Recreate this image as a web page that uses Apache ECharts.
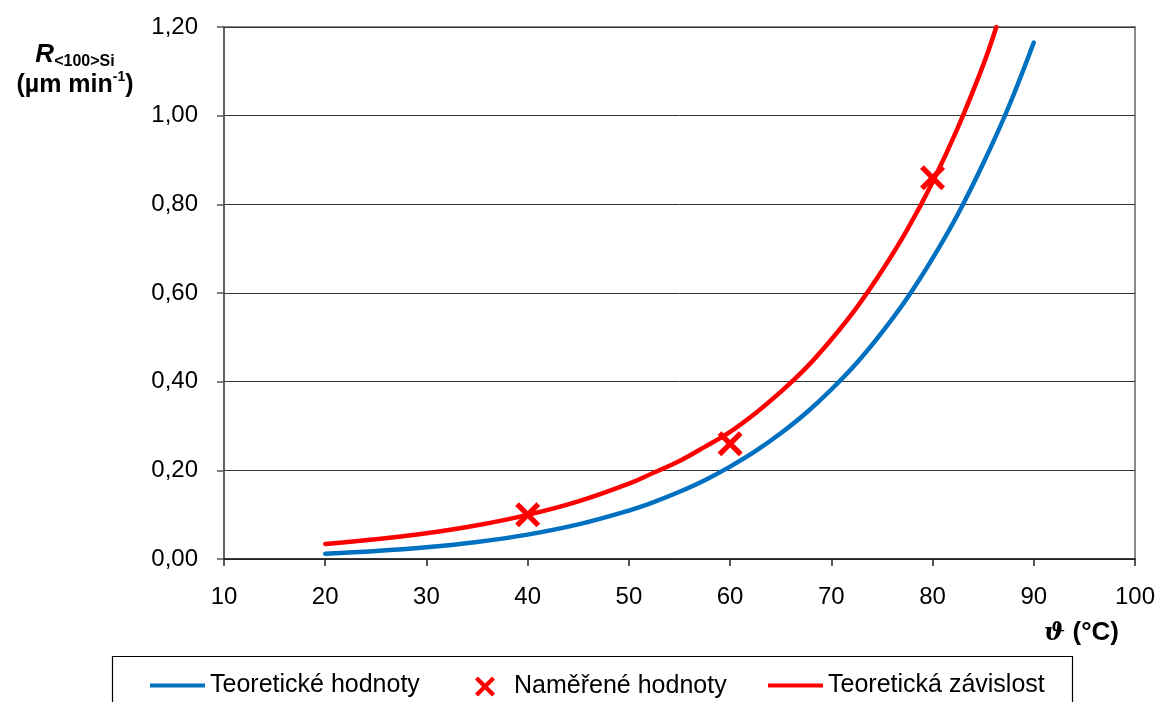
<!DOCTYPE html>
<html>
<head>
<meta charset="utf-8">
<script src="https://cdn.jsdelivr.net/npm/echarts@6/dist/echarts.min.js"></script>
<style>
  html, body { margin: 0; padding: 0; background: #fff; }
  #chart { width: 1160px; height: 702px; }
</style>
</head>
<body>
<div id="chart"></div>
<script>
// Etch rate of <100> Si versus temperature
const theoryT = [20, 25, 30, 35, 40, 45, 50, 52.5, 55, 57.5, 60, 62.5, 65, 67.5, 70, 72.5, 75, 77.5, 80, 82.5, 85, 87.5, 90];
const theoryR = [0.0121, 0.0180, 0.0265, 0.0384, 0.055, 0.078, 0.1093, 0.1288, 0.1517, 0.1778, 0.2084, 0.2431, 0.2835, 0.3292, 0.3823, 0.4421, 0.5112, 0.5887, 0.678, 0.7777, 0.892, 1.019, 1.165];

const measuredT = [40, 60, 80];
const measuredR = [0.10, 0.26, 0.86];

const fitT = [20, 25, 30, 35, 40, 45, 50, 52.5, 55, 57.5, 60, 62.5, 65, 67.5, 70, 72.5, 75, 77.5, 80, 82.5, 85, 86.3];
const fitR = [0.034, 0.0445, 0.0582, 0.0761, 0.0996, 0.130, 0.170, 0.195, 0.221, 0.253, 0.287, 0.329, 0.377, 0.431, 0.495, 0.567, 0.650, 0.743, 0.850, 0.973, 1.114, 1.2];

const xTicks = [10, 20, 30, 40, 50, 60, 70, 80, 90, 100];
const yTicks = [0, 0.2, 0.4, 0.6, 0.8, 1.0, 1.2];

const seriesNames = ['Teoretické hodnoty', 'Naměřené hodnoty', 'Teoretická závislost'];

const pair = (xs, ys) => xs.map((x, i) => [x, ys[i]]);
const FONT = 'Liberation Sans, Arial, sans-serif';
const BLUE = '#0070C0';
const RED = '#FF0000';
const CROSS = 'path://M0,3 L3,0 L10,7 L17,0 L20,3 L13,10 L20,17 L17,20 L10,13 L3,20 L0,17 L7,10 Z';

const chart = echarts.init(document.getElementById('chart'), null, { renderer: 'canvas' });

const legendText = { color: '#000', fontFamily: FONT, fontSize: 25 };

chart.setOption({
  animation: false,
  backgroundColor: '#fff',
  grid: {
    left: 224, right: 25, top: 27, bottom: 143,
    show: true, borderColor: '#8a8a8a', borderWidth: 2, backgroundColor: 'transparent'
  },
  xAxis: {
    type: 'value',
    min: xTicks[0], max: xTicks[xTicks.length - 1], interval: 10,
    axisLine: { show: true, onZero: false, lineStyle: { color: '#222', width: 1.5 } },
    axisTick: { show: true, inside: false, length: 7, lineStyle: { color: '#222', width: 1.5 } },
    splitLine: { show: false },
    axisLabel: { color: '#000', fontFamily: FONT, fontSize: 24, margin: 26 }
  },
  yAxis: {
    type: 'value',
    min: yTicks[0], max: yTicks[yTicks.length - 1], interval: 0.2,
    axisLine: { show: true, lineStyle: { color: '#555', width: 1.5 } },
    axisTick: { show: true, inside: false, length: 7, lineStyle: { color: '#555', width: 1.5 } },
    splitLine: { show: true, lineStyle: { color: '#333', width: 1 } },
    axisLabel: {
      color: '#000', fontFamily: FONT, fontSize: 24, margin: 26,
      formatter: v => v.toFixed(2).replace('.', ',')
    }
  },
  legend: [
    {
      data: [seriesNames[0]], left: 150, top: 673, padding: 0,
      itemWidth: 55, itemHeight: 4, icon: 'rect',
      textStyle: legendText
    },
    {
      data: [seriesNames[1]], left: 475, top: 674, padding: 0,
      itemWidth: 20, itemHeight: 20, icon: CROSS,
      textStyle: Object.assign({}, legendText, { padding: [0, 0, 0, 14] })
    },
    {
      data: [seriesNames[2]], left: 768, top: 673, padding: 0,
      itemWidth: 55, itemHeight: 4, icon: 'rect',
      textStyle: legendText
    }
  ],
  graphic: [
    {
      type: 'rect', silent: true,
      shape: { x: 112.5, y: 656.5, width: 960, height: 80 },
      style: { fill: 'none', stroke: '#000', lineWidth: 1.2 }
    },
    {
      type: 'text', silent: true, x: 75, y: 40,
      style: {
        text: '{r|R}{sub|<100>Si}\n{t|(µm min}{sup|-1}{t|)}',
        align: 'center', fill: '#000',
        rich: {
          r: { fontFamily: FONT, fontSize: 26, fontWeight: 'bold', fontStyle: 'italic', lineHeight: 30, verticalAlign: 'middle' },
          sub: { fontFamily: FONT, fontSize: 16, fontWeight: 'bold', lineHeight: 12, verticalAlign: 'bottom' },
          t: { fontFamily: FONT, fontSize: 25, fontWeight: 'bold', lineHeight: 30, verticalAlign: 'middle' },
          sup: { fontFamily: FONT, fontSize: 14, fontWeight: 'bold', lineHeight: 14, verticalAlign: 'top' }
        }
      }
    },
    {
      type: 'text', silent: true, x: 1119, y: 633,
      style: {
        text: '{i|ϑ}{b| (°C)}',
        align: 'right', verticalAlign: 'middle', fill: '#000',
        rich: {
          i: { fontFamily: 'DejaVu Serif, serif', fontSize: 25, fontWeight: 'bold', fontStyle: 'italic' },
          b: { fontFamily: FONT, fontSize: 26, fontWeight: 'bold' }
        }
      }
    }
  ],
  series: [
    {
      name: seriesNames[0], type: 'line',
      data: pair(theoryT, theoryR),
      smooth: 0.4, symbol: 'none', clip: true,
      lineStyle: { color: BLUE, width: 4.5, cap: 'round' },
      itemStyle: { color: BLUE }, z: 3
    },
    {
      name: seriesNames[1], type: 'scatter',
      data: pair(measuredT, measuredR),
      symbol: CROSS, symbolSize: 25,
      itemStyle: { color: RED, opacity: 1 }, z: 5
    },
    {
      name: seriesNames[2], type: 'line',
      data: pair(fitT, fitR),
      smooth: 0.4, symbol: 'none', clip: true,
      lineStyle: { color: RED, width: 4.5, cap: 'round' },
      itemStyle: { color: RED }, z: 4
    }
  ]
});
</script>
</body>
</html>
